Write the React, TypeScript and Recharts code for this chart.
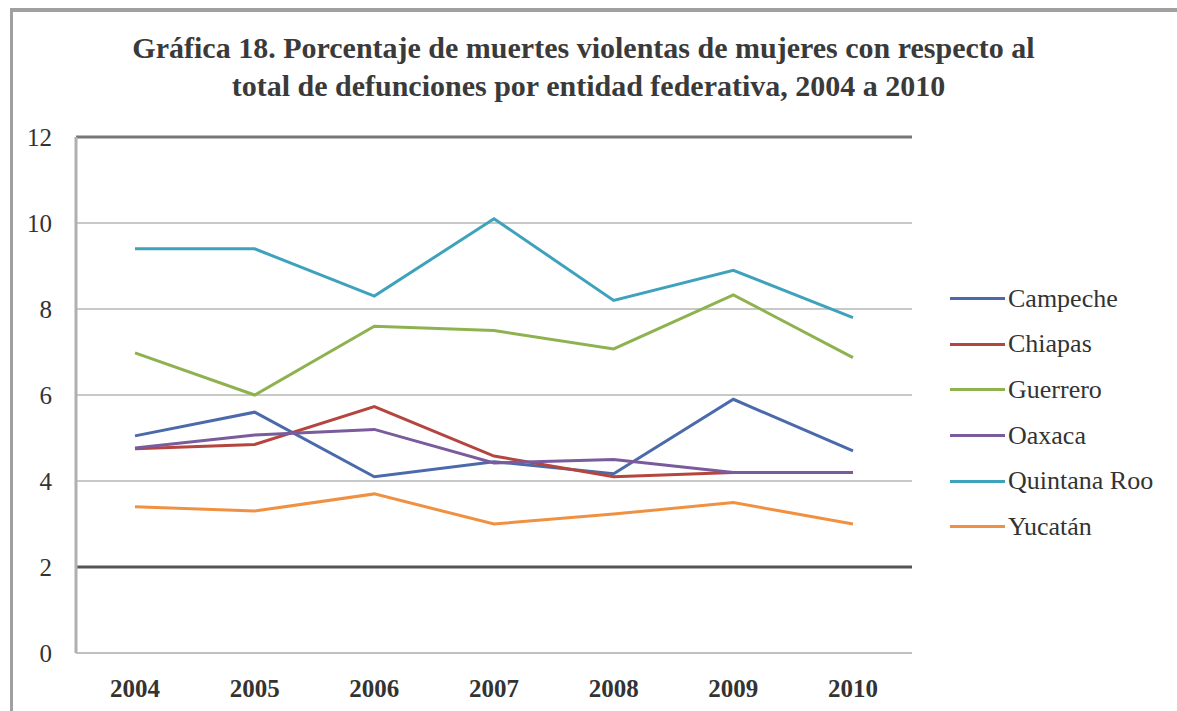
import React from 'react';
import {
  LineChart,
  Line,
  XAxis,
  YAxis,
  CartesianGrid,
  ReferenceLine,
} from 'recharts';

const years = ['2004', '2005', '2006', '2007', '2008', '2009', '2010'];
const yTicks = [0, 2, 4, 6, 8, 10, 12];

const campeche = [5.05, 5.6, 4.1, 4.45, 4.17, 5.9, 4.7];
const chiapas = [4.75, 4.85, 5.73, 4.58, 4.1, 4.2, 4.2];
const guerrero = [6.98, 6.0, 7.6, 7.5, 7.07, 8.33, 6.87];
const oaxaca = [4.77, 5.07, 5.2, 4.42, 4.5, 4.2, 4.2];
const quintanaRoo = [9.4, 9.4, 8.3, 10.1, 8.2, 8.9, 7.8];
const yucatan = [3.4, 3.3, 3.7, 3.0, 3.23, 3.5, 3.0];

const SERIES = [
  { key: 'Campeche', values: campeche, color: '#4a6aab' },
  { key: 'Chiapas', values: chiapas, color: '#b5453f' },
  { key: 'Guerrero', values: guerrero, color: '#8fb250' },
  { key: 'Oaxaca', values: oaxaca, color: '#7a5b9c' },
  { key: 'Quintana Roo', values: quintanaRoo, color: '#3fa2bc' },
  { key: 'Yucatán', values: yucatan, color: '#f09142' },
];

const data = years.map((year, i) => {
  const row: any = { year };
  SERIES.forEach(s => {
    row[s.key] = s.values[i];
  });
  return row;
});

const FONT = "'Liberation Serif', 'Times New Roman', Times, serif";

const App: React.FC = () => {
  return (
    <div
      style={{
        position: 'absolute',
        left: 0,
        top: 0,
        width: 1177,
        height: 711,
        background: '#fff',
        fontFamily: FONT,
      }}
    >
      {/* frame: top and left edge only */}
      <div
        style={{
          position: 'absolute',
          left: 10,
          top: 8,
          width: 1167,
          height: 703,
          borderTop: '4px solid #a0a0a0',
          borderLeft: '3px solid #a0a0a0',
        }}
      />
      <div
        style={{
          position: 'absolute',
          left: 0,
          top: 29,
          width: 1177,
          textAlign: 'center',
          fontSize: 30,
          fontWeight: 'bold',
          lineHeight: '38px',
          color: '#3a3a3a',
          fontFamily: FONT,
        }}
      >
        <div style={{ marginLeft: -10 }}>
          Gráfica 18. Porcentaje de muertes violentas de mujeres con respecto al
        </div>
        <div>total de defunciones por entidad federativa, 2004 a 2010</div>
      </div>
      <div style={{ position: 'absolute', left: 0, top: 0 }}>
        <LineChart
          width={1177}
          height={711}
          data={data}
          margin={{ top: 137, right: 265, bottom: 8, left: 0 }}
        >
          <CartesianGrid vertical={false} stroke="#c8c8c8" strokeWidth={2} />
          <XAxis
            dataKey="year"
            height={50}
            padding={{ left: 59, right: 59 }}
            axisLine={{ stroke: '#c0c0c0', strokeWidth: 2 }}
            tickLine={false}
            tickMargin={20}
            tick={{ fill: '#333', fontSize: 25, fontWeight: 'bold', fontFamily: FONT }}
          />
          <YAxis
            type="number"
            domain={[0, 12]}
            ticks={yTicks}
            width={76}
            axisLine={{ stroke: '#b0b0b0', strokeWidth: 3 }}
            tickLine={false}
            tickMargin={18}
            tick={{ fill: '#333', fontSize: 25, fontFamily: FONT }}
          />
          <ReferenceLine y={12} stroke="#777" strokeWidth={3} />
          <ReferenceLine y={2} stroke="#555" strokeWidth={3} />
          {SERIES.map(s => (
            <Line
              key={s.key}
              type="linear"
              dataKey={s.key}
              stroke={s.color}
              strokeWidth={3}
              dot={false}
              activeDot={false}
              isAnimationActive={false}
            />
          ))}
        </LineChart>
      </div>
      <div style={{ position: 'absolute', left: 950, top: 276, fontFamily: FONT }}>
        {SERIES.map(s => (
          <div key={s.key} style={{ display: 'flex', alignItems: 'center', height: 45.6 }}>
            <div style={{ width: 55, height: 3, background: s.color }} />
            <span style={{ fontSize: 26, color: '#333', marginLeft: 3 }}>{s.key}</span>
          </div>
        ))}
      </div>
    </div>
  );
};

export default App;
